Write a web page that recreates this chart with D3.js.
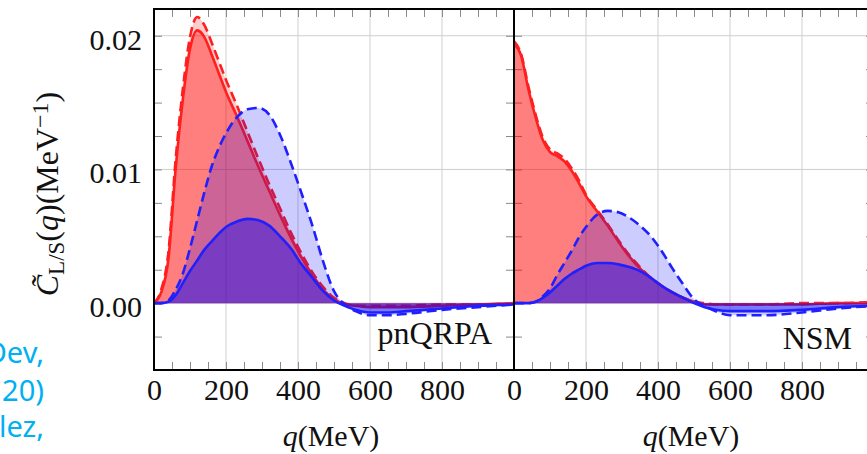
<!DOCTYPE html>
<html><head><meta charset="utf-8">
<script src="https://d3js.org/d3.v7.min.js"></script>
<style>
html,body{margin:0;padding:0;background:#fff;}
svg{display:block;}
</style></head>
<body>
<script>
// ---------- data ----------
const qGrid = [0,20,40,60,80,100,120,140,160,180,200,230,260,290,320,350,380,410,440,470,500,530,560,600,650,700,800,900,1000];

// pnQRPA panel
const pnRedSolid   = [0,0.0008,0.0033,0.0100,0.0152,0.0190,0.0204,0.0199,0.0186,0.0172,0.0158,0.0140,0.0121,0.0102,0.0084,0.0066,0.0049,0.0034,0.0021,0.0010,0.0003,-0.0001,-0.0002,-0.0003,-0.0003,-0.0003,-0.0002,-0.0001,0];
const pnRedDashed  = [0,0.0010,0.0038,0.0107,0.0160,0.0199,0.0214,0.0208,0.0195,0.0181,0.0167,0.0148,0.0128,0.0108,0.0089,0.0071,0.0053,0.0037,0.0023,0.0012,0.0004,0.0000,-0.0002,-0.0002,-0.0002,-0.0002,-0.0001,-0.0001,0];
const pnBlueSolid  = [0,0,0.0001,0.0006,0.0015,0.0024,0.0032,0.0040,0.0046,0.0052,0.0057,0.0061,0.0063,0.0062,0.0058,0.0050,0.0041,0.0029,0.0019,0.0009,0.0002,-0.0002,-0.0005,-0.0007,-0.0007,-0.0006,-0.0004,-0.0002,-0.0001];
const pnBlueDashed = [0,0,0.0002,0.0010,0.0022,0.0041,0.0062,0.0083,0.0102,0.0116,0.0127,0.0139,0.0145,0.0146,0.0141,0.0126,0.0105,0.0082,0.0058,0.0031,0.0009,-0.0001,-0.0006,-0.0009,-0.0009,-0.0008,-0.0005,-0.0003,-0.0001];

// NSM panel
const nsmRedSolid   = [0.0194,0.0185,0.0160,0.0139,0.0122,0.0113,0.0110,0.0106,0.0099,0.0090,0.0080,0.0069,0.0058,0.0046,0.0035,0.0026,0.0019,0.0013,0.0008,0.0004,0.0001,-0.0001,-0.0001,-0.0001,-0.0001,-0.0001,-0.0001,0,0];
const nsmRedDashed  = [0.0196,0.0186,0.0162,0.0141,0.0124,0.0115,0.0112,0.0108,0.0101,0.0092,0.0081,0.0070,0.0059,0.0047,0.0036,0.0027,0.0019,0.0013,0.0008,0.0004,0.0001,0.0000,-0.0001,-0.0001,-0.0001,-0.0001,0,0,0.0001];
const nsmBlueSolid  = [0,0,0,0.0001,0.0004,0.0008,0.0013,0.0018,0.0022,0.0025,0.0028,0.0030,0.0030,0.0029,0.0027,0.0024,0.0019,0.0013,0.0008,0.0004,0.0000,-0.0003,-0.0005,-0.0006,-0.0006,-0.0006,-0.0005,-0.0003,-0.0002];
const nsmBlueDashed = [0,0,0,0.0001,0.0005,0.0011,0.0021,0.0030,0.0039,0.0049,0.0057,0.0066,0.0069,0.0068,0.0064,0.0058,0.0050,0.0039,0.0026,0.0014,0.0003,-0.0002,-0.0006,-0.0009,-0.0009,-0.0009,-0.0007,-0.0004,-0.0002];

const panelNames = ["pnQRPA","NSM"];
const xTickLabels = [0,200,400,600,800];
const xMajorTicks = [0,200,400,600,800,1000];
const yTickLabels = [0,0.01,0.02];
const sideText = ["Dev,","20)","lez,"];

// ---------- layout ----------
const W = 867, H = 454;
const svg = d3.select("body").append("svg").attr("width",W).attr("height",H);
const yTop = 9, yBot = 370;
const y = d3.scaleLinear().domain([-0.005,0.022]).range([yBot,yTop]);
const panels = [
  {x0:154, x1:514, name:panelNames[0], series:[pnRedDashed,pnRedSolid,pnBlueDashed,pnBlueSolid]},
  {x0:514, x1:874, name:panelNames[1], series:[nsmRedDashed,nsmRedSolid,nsmBlueDashed,nsmBlueSolid]}
];
const styles = [
  {fill:"rgba(255,0,0,0.2)",  stroke:"#ff1f1f", dash:"10,5"},
  {fill:"rgba(255,0,0,0.38)", stroke:"#ff1f1f", dash:null},
  {fill:"rgba(0,0,255,0.2)",  stroke:"#2020ff", dash:"10,5"},
  {fill:"rgba(0,0,255,0.4)",  stroke:"#2020ff", dash:null}
];
const serif = "'Liberation Serif','Times New Roman',serif";

const yMinor = d3.range(-0.005, 0.02201, 0.0025);
const xMinor = d3.range(0, 1001, 50);

panels.forEach((p,pi)=>{
  const x = d3.scaleLinear().domain([0,1000]).range([p.x0,p.x1]);
  const g = svg.append("g");
  const clipId = "clip"+pi;
  svg.append("clipPath").attr("id",clipId).append("rect")
    .attr("x",p.x0).attr("y",yTop).attr("width",p.x1-p.x0).attr("height",yBot-yTop);

  // grid
  const grid = g.append("g").attr("stroke","#cfcfcf").attr("stroke-width",1);
  xMajorTicks.filter(v=>v>0&&v<1000).forEach(v=>{
    grid.append("line").attr("x1",x(v)).attr("x2",x(v)).attr("y1",yTop).attr("y2",yBot);
  });
  yTickLabels.forEach(v=>{
    grid.append("line").attr("x1",p.x0).attr("x2",p.x1).attr("y1",y(v)).attr("y2",y(v));
  });

  // minor/major ticks via axes (inward)
  const tickCol = "#8a8a8a";
  const ax = [
    g.append("g").attr("transform",`translate(0,${yBot})`).call(d3.axisTop(x).tickValues(xMinor).tickSize(8).tickFormat("")),
    g.append("g").attr("transform",`translate(0,${yTop})`).call(d3.axisBottom(x).tickValues(xMinor).tickSize(8).tickFormat("")),
    g.append("g").attr("transform",`translate(${p.x0},0)`).call(d3.axisRight(y).tickValues(yMinor).tickSize(8).tickFormat("")),
    g.append("g").attr("transform",`translate(${p.x1},0)`).call(d3.axisLeft(y).tickValues(yMinor).tickSize(8).tickFormat(""))
  ];
  ax.forEach(a=>{a.select(".domain").remove(); a.selectAll("line").attr("stroke",tickCol).attr("stroke-width",1);});

  // curves: red fills, red lines, blue fills, blue lines
  const cg = g.append("g").attr("clip-path",`url(#${clipId})`);
  const order = [[0,"fill"],[1,"fill"],[0,"line"],[1,"line"],[2,"fill"],[3,"fill"],[2,"line"],[3,"line"]];
  order.forEach(([si,kind])=>{
    const s = p.series[si];
    const data = qGrid.map((q,i)=>[q,s[i]]);
    if(kind==="fill"){
      const area = d3.area().x(d=>x(d[0])).y0(y(0)).y1(d=>y(d[1])).curve(d3.curveMonotoneX);
      cg.append("path").datum(data).attr("d",area).attr("fill",styles[si].fill);
    } else {
      const line = d3.line().x(d=>x(d[0])).y(d=>y(d[1])).curve(d3.curveMonotoneX);
      cg.append("path").datum(data).attr("d",line).attr("fill","none")
        .attr("stroke",styles[si].stroke).attr("stroke-width",2.6)
        .attr("stroke-dasharray",styles[si].dash).attr("stroke-linejoin","round");
    }
  });

  // frame
  g.append("rect").attr("x",p.x0).attr("y",yTop).attr("width",p.x1-p.x0).attr("height",yBot-yTop)
    .attr("fill","none").attr("stroke","#000").attr("stroke-width",2);

  // x tick labels
  const xa = g.append("g").attr("transform",`translate(0,${yBot})`)
    .call(d3.axisBottom(x).tickValues(xTickLabels).tickSize(0).tickPadding(24).tickFormat(d3.format("d")));
  xa.select(".domain").remove();
  xa.selectAll("text").attr("font-family",serif).attr("font-size",30).attr("fill","#111").attr("dy","0.2em");

  // x title
  const xt = g.append("text").attr("x",(p.x0+p.x1)/2 - 3).attr("y",446).attr("text-anchor","middle")
    .attr("font-family",serif).attr("font-size",30).attr("fill","#111");
  xt.append("tspan").attr("font-style","italic").text("q");
  xt.append("tspan").text("(MeV)");

  // panel label
  g.append("text").attr("x",p.x0+338).attr("y",pi===0?344:349).attr("text-anchor","end")
    .attr("font-family",serif).attr("font-size",32).attr("fill","#111").text(p.name);
});

// y tick labels
const ya = svg.append("g").attr("transform","translate(154,0)")
  .call(d3.axisLeft(y).tickValues(yTickLabels).tickSize(0).tickPadding(12).tickFormat(d3.format(".2f")));
ya.select(".domain").remove();
ya.selectAll("text").attr("font-family",serif).attr("font-size",30).attr("fill","#111").attr("dy","0.45em");

// y title
const yt = svg.append("text").attr("transform","translate(58,194) rotate(-90)").attr("text-anchor","middle")
  .attr("font-family",serif).attr("font-size",32).attr("fill","#111");
yt.append("tspan").attr("font-style","italic").text("C\u0303");
yt.append("tspan").attr("font-size",23).attr("dy",6).text("L/S");
yt.append("tspan").attr("dy",-6).text("(");
yt.append("tspan").attr("font-style","italic").text("q");
yt.append("tspan").text(")(MeV");
yt.append("tspan").attr("font-size",24).attr("dy",-10).text("\u22121");
yt.append("tspan").attr("dy",10).text(")");

// cut-off side text
sideText.forEach((t,i)=>{
  svg.append("text").attr("x",44).attr("y",[363,401,437][i]).attr("text-anchor","end")
    .attr("font-family","'Noto Sans','Open Sans',sans-serif").attr("font-size",29).attr("fill","#00b0f0").text(t);
});
</script>
</body></html>
